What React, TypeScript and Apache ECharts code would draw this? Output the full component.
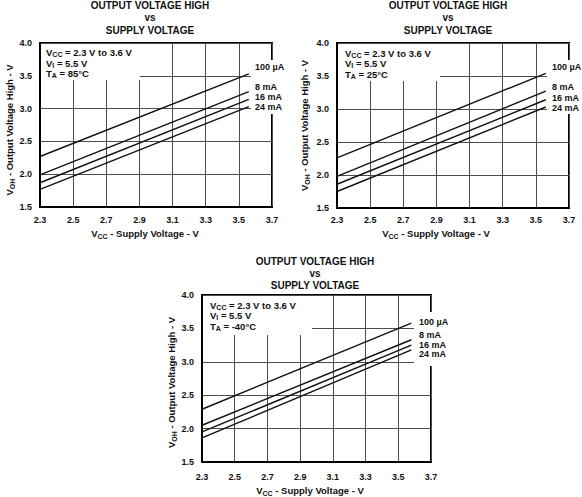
import React, { useEffect, useRef } from 'react';
import * as echarts from 'echarts';

const FONT = '"Liberation Sans", Arial, Helvetica, sans-serif';

// ---- data ----
const currents = ['100 µA', '8 mA', '16 mA', '24 mA'];
const xTicks = [2.3, 2.5, 2.7, 2.9, 3.1, 3.3, 3.5, 3.7];
const vccTop = [2.3, 3.56];
const vccBottom = [2.3, 3.58];
// V_OH at the start and end supply voltage, one row per load current
const voh85 = [
  [2.27, 3.53],
  [1.99, 3.26],
  [1.87, 3.14],
  [1.77, 3.03],
];
const voh25 = [
  [2.26, 3.54],
  [1.98, 3.27],
  [1.86, 3.14],
  [1.75, 3.03],
];
const vohM40 = [
  [2.29, 3.58],
  [2.05, 3.33],
  [1.95, 3.25],
  [1.86, 3.18],
];
const temps = ['85°C', '25°C', '-40°C'];
const titleText = 'OUTPUT VOLTAGE HIGH\nvs\nSUPPLY VOLTAGE';

// ---- layout ----
const panels = [
  {
    grid: { left: 40, top: 43, width: 232, height: 164 },
    vcc: vccTop, voh: voh85, temp: temps[0],
    title: { x: 150, y: -1.25, lh: 12.5 },
    annot: { x: 46, y: 47.5, box: [41, 44, 99, 36] },
    labels: { x: 255, ys: [67, 87, 97, 107], box: [251, 60, 40, 54] },
    yNameGap: 23, yNamePad: [0, 10, 0, 0],
    xNameGap: 20, xNamePad: [0, 22, 0, 0], xLabelMargin: 8,
  },
  {
    grid: { left: 337, top: 43, width: 232, height: 165 },
    vcc: vccTop, voh: voh25, temp: temps[1],
    title: { x: 448, y: -1.25, lh: 12.5 },
    annot: { x: 345, y: 48, box: [338, 44, 102, 37] },
    labels: { x: 552, ys: [67, 87, 97.5, 107.5], box: [547, 60, 40, 54] },
    yNameGap: 26, yNamePad: [0, 0, 0, 0],
    xNameGap: 19, xNamePad: [0, 34, 0, 0], xLabelMargin: 7,
  },
  {
    grid: { left: 202, top: 295, width: 229, height: 167 },
    vcc: vccBottom, voh: vohM40, temp: temps[2],
    title: { x: 315, y: 255, lh: 12 },
    annot: { x: 210, y: 300, box: [203, 296, 109, 39] },
    labels: { x: 419, ys: [321.5, 334.7, 344.6, 354], box: [414, 312, 40, 54] },
    yNameGap: 23, yNamePad: [0, 8, 0, 0],
    xNameGap: 22, xNamePad: [0, 13, 0, 0], xLabelMargin: 10,
  },
];

const INK = '#111';
const GRIDC = '#4d4d4d';

function nameRich(size: number) {
  return {
    m: { fontSize: size, fontWeight: 'bold', fontFamily: FONT, color: INK, lineHeight: 13 },
    s: { fontSize: 7, fontWeight: 'bold', fontFamily: FONT, color: INK, verticalAlign: 'bottom', lineHeight: 9 },
  };
}

function graphicRich() {
  return {
    m: { fontSize: 9.5, fontWeight: 'bold', fontFamily: FONT, fill: INK, lineHeight: 10.5 },
    s: { fontSize: 7, fontWeight: 'bold', fontFamily: FONT, fill: INK, verticalAlign: 'bottom' },
  };
}

function buildOption() {
  const grids: any[] = [];
  const xAxes: any[] = [];
  const yAxes: any[] = [];
  const series: any[] = [];
  const graphics: any[] = [];

  panels.forEach((p, i) => {
    grids.push({
      ...p.grid,
      containLabel: false,
      outerBoundsMode: 'none',
      show: true,
      borderColor: '#000',
      borderWidth: 2,
      backgroundColor: 'transparent',
    });
    xAxes.push({
      gridIndex: i,
      type: 'value',
      min: 2.3,
      max: 3.7,
      name: '{m|V}{s|CC}{m| - Supply Voltage - V}',
      nameLocation: 'middle',
      nameGap: p.xNameGap,
      nameTextStyle: { rich: nameRich(9.5), padding: p.xNamePad },
      axisLine: { show: true, onZero: false, lineStyle: { color: '#000', width: 2 } },
      axisTick: { show: false, customValues: xTicks },
      axisLabel: {
        customValues: xTicks,
        showMinLabel: true,
        showMaxLabel: true,
        formatter: (v: number) => Number(v).toFixed(1),
        color: INK,
        fontSize: 9,
        fontWeight: 'bold',
        fontFamily: FONT,
        margin: p.xLabelMargin,
      },
      splitLine: { show: true, lineStyle: { color: GRIDC, width: 1 } },
    });
    yAxes.push({
      gridIndex: i,
      type: 'value',
      min: 1.5,
      max: 4.0,
      interval: 0.5,
      name: '{m|V}{s|OH}{m| - Output Voltage High - V}',
      nameLocation: 'middle',
      nameGap: p.yNameGap,
      nameRotate: 90,
      nameTextStyle: { rich: nameRich(9.5), padding: p.yNamePad },
      axisLine: { show: true, onZero: false, lineStyle: { color: '#000', width: 2 } },
      axisTick: { show: false },
      axisLabel: {
        formatter: (v: number) => Number(v).toFixed(1),
        color: INK,
        fontSize: 9,
        fontWeight: 'bold',
        fontFamily: FONT,
        margin: 8,
      },
      splitLine: { show: true, lineStyle: { color: GRIDC, width: 1 } },
    });
    currents.forEach((c, j) => {
      series.push({
        type: 'line',
        name: c,
        xAxisIndex: i,
        yAxisIndex: i,
        data: p.vcc.map((x, k) => [x, p.voh[j][k]]),
        symbol: 'none',
        showSymbol: false,
        silent: true,
        lineStyle: { color: INK, width: 1.4 },
        z: 5,
      });
    });

    // title
    graphics.push({
      type: 'text',
      x: p.title.x,
      y: p.title.y,
      z: 100,
      style: {
        text: titleText,
        align: 'center',
        verticalAlign: 'top',
        font: `bold 10px ${FONT}`,
        lineHeight: p.title.lh,
        fill: INK,
      },
    });
    // annotation box + text
    const [bx, by, bw, bh] = p.annot.box;
    graphics.push({
      type: 'rect',
      z: 100,
      shape: { x: bx, y: by, width: bw, height: bh },
      style: { fill: '#fff' },
    });
    graphics.push({
      type: 'text',
      x: p.annot.x,
      y: p.annot.y,
      z: 101,
      style: {
        text:
          '{m|V}{s|CC}{m| = 2.3 V to 3.6 V}\n' +
          '{m|V}{s|I}{m| = 5.5 V}\n' +
          `{m|T}{s|A}{m| = ${p.temp}}`,
        rich: graphicRich(),
        align: 'left',
        verticalAlign: 'top',
        font: `bold 9.5px ${FONT}`,
        fill: INK,
      },
    });
    // curve labels
    const [lx, ly, lw, lh] = p.labels.box;
    graphics.push({
      type: 'rect',
      z: 100,
      shape: { x: lx, y: ly, width: lw, height: lh },
      style: { fill: '#fff' },
    });
    currents.forEach((c, j) => {
      graphics.push({
        type: 'text',
        x: p.labels.x,
        y: p.labels.ys[j],
        z: 101,
        style: {
          text: c,
          align: 'left',
          verticalAlign: 'middle',
          font: `bold 9px ${FONT}`,
          fill: INK,
        },
      });
    });
  });

  return {
    animation: false,
    backgroundColor: '#fff',
    grid: grids,
    xAxis: xAxes,
    yAxis: yAxes,
    series,
    graphic: graphics,
  };
}

export default function App() {
  const ref = useRef<HTMLDivElement>(null);
  useEffect(() => {
    if (!ref.current) return;
    const chart = echarts.init(ref.current, null, { renderer: 'svg' });
    chart.setOption(buildOption() as any);
    return () => chart.dispose();
  }, []);
  return (
    <div
      ref={ref}
      style={{ position: 'absolute', left: 0, top: 0, width: 582, height: 497, background: '#fff' }}
    />
  );
}
